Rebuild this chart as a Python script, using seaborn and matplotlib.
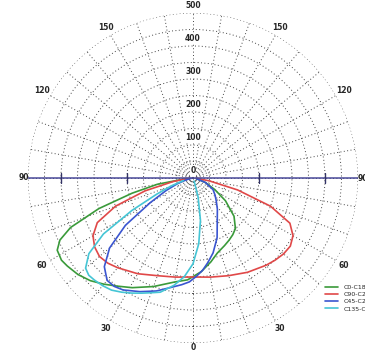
import numpy as np
import pandas as pd
import matplotlib
matplotlib.use("Agg")
import matplotlib.pyplot as plt
import seaborn as sns

# Luminous intensity distribution (cd/klm) per C-plane, gamma angle in degrees
# (0 = nadir, negative = left half, positive = right half)
planes = ["C0-C180", "C90-C270", "C45-C225", "C135-C315"]

gamma_c0 = [-85, -80, -76, -72, -68, -65, -62, -58, -55, -50, -45, -40, -35, -29, -20, -10, -3, 5, 12, 18, 25, 30, 35, 40, 47, 55, 62, 70, 80]
value_c0 = [20, 110, 190, 300, 400, 445, 466, 470, 465, 455, 440, 420, 400, 380, 350, 320, 309, 285, 260, 239, 226, 218, 210, 200, 170, 120, 75, 40, 10]

gamma_c90 = [-85, -80, -75, -70, -65, -60, -55, -50, -45, -40, -30, -20, -10, 0, 10, 20, 30, 40, 45, 50, 55, 60, 65, 70, 75, 80, 85]
value_c90 = [15, 60, 150, 250, 320, 350, 364, 370, 365, 355, 335, 315, 305, 300, 305, 315, 330, 345, 352, 358, 360, 350, 324, 250, 140, 50, 10]

gamma_c45 = [-80, -75, -70, -65, -60, -55, -50, -45, -40, -36, -32, -25, -18, -12, -6, -2, 2, 6, 10, 15, 22, 30, 38, 45, 52, 60, 70, 80]
value_c45 = [5, 20, 50, 90, 150, 250, 330, 380, 405, 406, 400, 380, 360, 340, 325, 315, 298, 281, 260, 235, 195, 147, 120, 100, 85, 70, 40, 10]

gamma_c135 = [-75, -70, -66, -62, -58, -54, -50, -47, -44, -40, -36, -32, -28, -24, -20, -16, -10, -5, 0, 5, 10, 15, 20]
value_c135 = [30, 70, 120, 210, 320, 390, 425, 432, 430, 426, 420, 408, 395, 382, 370, 360, 330, 300, 260, 200, 130, 60, 10]

radial_ticks = [0, 100, 200, 300, 400, 500]
angle_ticks = [0, 30, 60, 90, 120, 150]

colors = {"C0-C180": "#3a9a3a", "C90-C270": "#e04848",
          "C45-C225": "#3a55d0", "C135-C315": "#45c5d5"}

frames = []
for name, g, v in [("C0-C180", gamma_c0, value_c0), ("C90-C270", gamma_c90, value_c90),
                   ("C45-C225", gamma_c45, value_c45), ("C135-C315", gamma_c135, value_c135)]:
    frames.append(pd.DataFrame({"theta": np.deg2rad(g), "cd": v, "plane": name}))
df = pd.concat(frames, ignore_index=True)

sns.set_style("white")
plt.rcParams["font.family"] = ["DejaVu Sans"]

fig = plt.figure(figsize=(3.65, 3.53), dpi=100)
ax = fig.add_axes([28 / 365, 10 / 353, 330 / 365, 330 / 353], projection="polar")
ax.set_theta_zero_location("S")
ax.set_theta_direction(1)
ax.set_rlim(0, 500)

# dotted polar grid
ax.set_rticks(np.arange(50, 501, 50))
ax.set_thetagrids(np.arange(0, 360, 10))
ax.grid(True, color="#444444", linestyle=(0, (1, 2.5)), linewidth=0.7)
ax.set_xticklabels([])
ax.set_yticklabels([])
ax.spines["polar"].set_visible(False)

# horizontal 90-90 axis
ax.plot([np.pi / 2, np.pi / 2], [0, 500], color="#4a4a9a", lw=1.1, zorder=3)
ax.plot([3 * np.pi / 2, 3 * np.pi / 2], [0, 500], color="#4a4a9a", lw=1.1, zorder=3)
for r in [200, 400]:
    for t in [np.pi / 2, 3 * np.pi / 2]:
        ax.plot([t], [r], marker="|", markersize=7, color="#333366", mew=1.0, zorder=3)

sns.lineplot(data=df, x="theta", y="cd", hue="plane", hue_order=planes,
             palette=colors, sort=False, estimator=None, lw=1.2, ax=ax, legend=True)
ax.set_xlabel("")
ax.set_ylabel("")

# radial value labels along the upper vertical
for r in radial_ticks:
    ax.annotate(str(r), xy=(np.pi, r), xytext=(0, 5.5), textcoords="offset points",
                ha="center", va="center", fontsize=5.5, fontweight="bold",
                bbox=dict(boxstyle="square,pad=0.1", fc="white", ec="none"), zorder=5)

# gamma angle labels around the rim
for a in angle_ticks:
    for s in ([1] if a == 0 else [1, -1]):
        rr = 514 if a in (0, 90) else 528
        ax.text(np.deg2rad(s * a), rr, str(a), ha="center", va="center",
                fontsize=5.5, fontweight="bold", clip_on=False)

leg = ax.legend(loc="upper left", bbox_to_anchor=(322 / 365, 1 - 282 / 353), bbox_transform=fig.transFigure,
                fontsize=4.5, frameon=False, handlelength=2.2, labelspacing=0.3, borderaxespad=0)

fig.savefig("out.png", dpi=100)
